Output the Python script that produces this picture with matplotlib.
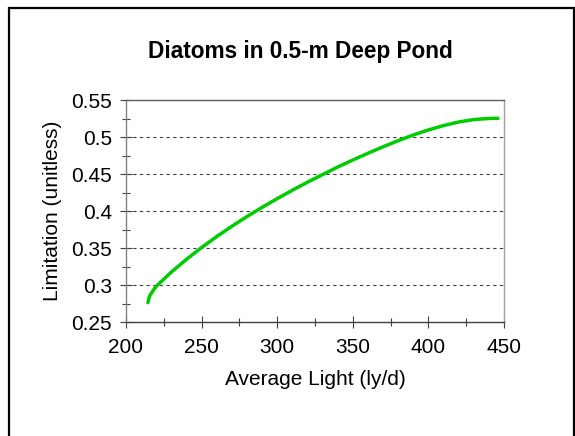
import matplotlib
matplotlib.use("Agg")
import matplotlib.pyplot as plt
from matplotlib.patches import Rectangle
from matplotlib.ticker import MultipleLocator

# Average light (ly/d) and the resulting light limitation factor
light = [214.5, 215.0, 216.0, 217.5, 219.0, 220.7, 230, 240, 250, 260, 270,
         280, 290, 300, 310, 320, 330, 340, 350, 360, 370, 380, 390, 400,
         410, 420, 430, 440, 446]
limitation = [0.2765, 0.2815, 0.2870, 0.2915, 0.2960, 0.3000, 0.3178,
              0.3350, 0.3509, 0.3657, 0.3796, 0.3927, 0.4051, 0.4169,
              0.4282, 0.4390, 0.4493, 0.4595, 0.4690, 0.4781, 0.4868,
              0.4951, 0.5028, 0.5096, 0.5155, 0.5203, 0.5236, 0.5251,
              0.5253]

title = "Diatoms in 0.5-m Deep Pond"
x_label = "Average Light (ly/d)"
y_label = "Limitation (unitless)"

plt.rcParams["font.family"] = ["Liberation Sans", "DejaVu Sans"]

W, H = 575, 436
fig = plt.figure(figsize=(W / 100, H / 100), dpi=100)
fig.patch.set_facecolor("white")

# outer chart border (bottom edge falls outside the canvas)
fig.add_artist(Rectangle((8.5 / W, -0.05), (573.5 - 8.5) / W, 1.05 - 8.5 / H,
                         transform=fig.transFigure, fill=False,
                         edgecolor="black", linewidth=1.6, clip_on=False))

left, right, top, bottom = 126, 504, 100, 322.3
ax = fig.add_axes([left / W, 1 - bottom / H, (right - left) / W, (bottom - top) / H])

ax.plot(light, limitation, color="#00CC00", linewidth=2.5,
        solid_capstyle="round", solid_joinstyle="round")

ax.set_xlim(200, 450)
ax.set_ylim(0.25, 0.55)
ax.xaxis.set_major_locator(MultipleLocator(50))
ax.xaxis.set_minor_locator(MultipleLocator(25))
ax.yaxis.set_minor_locator(MultipleLocator(0.025))

ax.set_yticks([0.25, 0.3, 0.35, 0.4, 0.45, 0.5, 0.55])
ax.set_yticklabels(["0.25", "0.3", "0.35", "0.4", "0.45", "0.5", "0.55"])

for yv in [0.3, 0.35, 0.4, 0.45, 0.5]:
    ax.axhline(yv, color="#404040", linewidth=0.8, linestyle=(0, (3, 3)), zorder=0.5)

ax.tick_params(axis="both", which="major", direction="inout", length=8,
               width=0.8, color="#404040", labelsize=15)
ax.tick_params(axis="both", which="minor", direction="inout", length=6,
               width=0.8, color="#404040")
ax.tick_params(axis="x", which="major", pad=7)
ax.tick_params(axis="y", which="major", pad=6)

ax.spines["left"].set_color("#808080")
ax.spines["bottom"].set_color("#404040")
ax.spines["top"].set_color("#606060")
ax.spines["right"].set_color("#a0a0a0")
for s in ax.spines.values():
    s.set_linewidth(1.0)

fig.text(300.5 / W, 1 - 58 / H, title, ha="center", va="baseline",
         fontsize=16.3, fontweight="bold")
fig.text(315 / W, 1 - 385 / H, x_label, ha="center", va="baseline", fontsize=15)
fig.text(53 / W, 1 - 210.5 / H, y_label, ha="center", va="center",
         rotation=90, fontsize=15)

fig.savefig("out.png", dpi=100)
